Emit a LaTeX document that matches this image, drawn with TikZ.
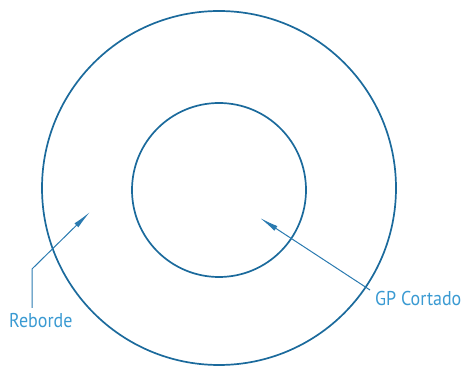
\documentclass[tikz,border=0pt]{standalone}
\usepackage{fontspec}
\setmainfont{PT Sans}
\usepackage{xcolor}
\definecolor{cRing}{HTML}{1B6A9C}
\definecolor{cLead}{HTML}{2A7AB0}
\definecolor{cText}{HTML}{3A9AD2}
\usetikzlibrary{arrows.meta}
\tikzset{
  ring/.style={draw=cRing,line width=1.7pt},
  leader/.style={draw=cLead,line width=1pt,-{Latex[length=19pt,width=5.5pt]}},
  node-label/.style={inner sep=0pt,text=cText,font=\fontsize{20}{22}\selectfont,
    xscale=0.9,transform shape},
}

\begin{document}
\begin{tikzpicture}[x=1pt,y=1pt]
  \useasboundingbox (0,0) rectangle (465,366);
  % anillo exterior e interior
  \coordinate (c-out) at (219,178);
  \coordinate (c-in) at (219,176);
  \draw[ring] (c-out) circle[radius=177];
  \draw[ring] (c-in) circle[radius=87];
  % etiquetas
  \node[node-label,anchor=north west] (lbl-reborde) at (9,53) {Reborde};
  \node[node-label,anchor=north west] (lbl-gp) at (375,75) {GP Cortado};
  \coordinate (reb-bend) at (32,97);
  \coordinate (reb-tip) at (90,154);
  \coordinate (gp-tip) at (260,148);
  \draw[leader] ([yshift=5pt]lbl-reborde.north -| reb-bend) -- (reb-bend) -- (reb-tip);
  \draw[leader] ([xshift=-5pt,yshift=1pt]lbl-gp.north west) -- (gp-tip);
\end{tikzpicture}
\end{document}
